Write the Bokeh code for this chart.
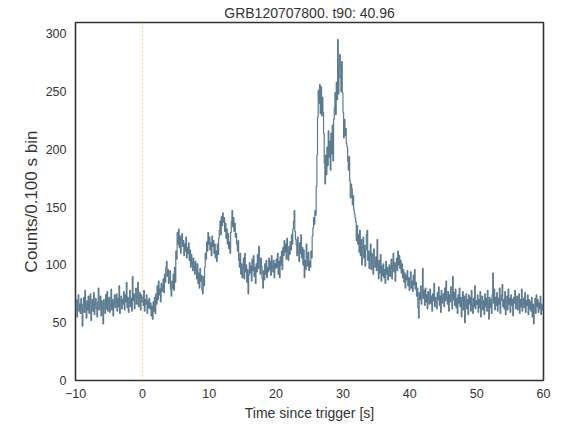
import numpy as np
from bokeh.plotting import figure
from bokeh.models import Span, Range1d, FixedTicker
from bokeh.embed import file_html
from bokeh.resources import INLINE

# Counts per 0.1 s bin
pre_trigger = [  # t = -10.0 .. -0.1
    62, 70, 55, 68, 74, 60, 66, 58, 71, 64,
    47, 66, 72, 59, 78, 63, 54, 69, 61, 73,
    58, 67, 75, 52, 64, 70, 60, 76, 57, 66,
    71, 62, 55, 68, 80, 61, 65, 73, 56, 69,
    63, 49, 70, 66, 58, 74, 62, 77, 60, 68,
    72, 59, 65, 79, 61, 70, 56, 67, 74, 63,
    68, 75, 60, 71, 64, 82, 58, 69, 73, 62,
    70, 66, 77, 61, 74, 68, 85, 63, 72, 59,
    67, 78, 64, 71, 60, 90, 69, 75, 62, 73,
    80, 66, 72, 85, 64, 70, 76, 61, 74, 68,
]
precursor = [  # t = 0.0 .. 25.9
    72, 65, 78, 60, 70, 66, 74, 58, 69, 63,
    71, 62, 67, 56, 64, 53, 68, 60, 72, 58,
    75, 66, 82, 70, 86, 74, 79, 68, 84, 77,
    80, 88, 76, 92, 85, 98, 103, 90, 96, 84,
    88, 95, 79, 73, 86, 80, 92, 78, 98, 85,
    112, 105, 128, 118, 131, 115, 125, 110, 122, 127,
    116, 121, 108, 118, 112, 124, 106, 115, 110, 119,
    104, 113, 98, 109, 102, 95, 106, 99, 92, 103,
    96, 88, 101, 84, 93, 80, 97, 86, 91, 78,
    75, 90, 82, 98, 110, 105, 120, 112, 128, 118,
    124, 113, 119, 108, 125, 116, 121, 110, 118, 106,
    112, 103, 118, 109, 123, 130, 138, 126, 142, 134,
    145, 137, 141, 129, 136, 123, 131, 118, 127, 114,
    120, 110, 128, 138, 147, 133, 141, 129, 136, 124,
    127, 118, 112, 121, 104, 98, 110, 92, 101, 89,
    97, 106, 88, 110, 94, 100, 85, 96, 75, 91,
    102, 93, 99, 86, 105, 95, 108, 90, 98, 84,
    101, 94, 109, 97, 116, 103, 92, 106, 99, 88,
    80, 95, 87, 101, 92, 104, 89, 98, 94, 106,
    96, 103, 91, 108, 99, 94, 104, 89, 101, 97,
    105, 98, 110, 92, 103, 89, 107, 100, 112, 96,
    115, 108, 121, 111, 118, 105, 123, 112, 104, 116,
    109, 120, 113, 126, 118, 131, 138, 147, 129, 122,
    117, 108, 124, 112, 103, 119, 110, 126, 106, 115,
    100, 113, 89, 104, 96, 118, 107, 99, 111, 95,
    103, 98, 112, 106, 125, 132, 141, 135, 147, 143,
]
main_pulse = [  # t = 26.0 .. 31.9
    168, 195, 228, 251, 240, 256, 231, 254, 229, 245,
    232, 214, 188, 170, 195, 178, 202, 186, 216, 193,
    207, 182, 214, 196, 221, 190, 226, 236, 249, 230,
    258, 243, 295, 248, 271, 282, 262, 250, 276, 249,
    232, 210, 226, 212, 218, 205, 202, 190, 182, 194,
    173, 158, 170, 166, 152, 160, 148, 144, 141, 137,
]
decay = [  # t = 32.0 .. 59.9
    121, 134, 118, 126, 111, 130, 108, 122, 100, 115,
    124, 106, 117, 99, 113, 126, 130, 104, 112, 97,
    108, 118, 96, 110, 101, 92, 114, 103, 98, 107,
    95, 122, 100, 88, 104, 93, 109, 86, 99, 91,
    101, 89, 96, 84, 103, 92, 98, 87, 94, 100,
    90, 97, 105, 88, 99, 110, 94, 102, 86, 98,
    106, 95, 112, 100, 108, 97, 104, 93, 101, 89,
    96, 85, 93, 80, 91, 87, 95, 82, 89, 78,
    88, 94, 80, 86, 77, 91, 83, 96, 79, 85,
    73, 80, 63, 54, 76, 70, 82, 66, 74, 97,
    71, 78, 65, 80, 68, 74, 62, 77, 70, 66,
    79, 67, 73, 60, 75, 69, 84, 64, 72, 68,
    62, 76, 70, 81, 65, 73, 59, 78, 67, 71,
    75, 64, 80, 69, 86, 72, 66, 77, 60, 74,
    68, 81, 73, 62, 90, 70, 76, 65, 79, 63,
    71, 58, 74, 67, 80, 64, 72, 55, 69, 77,
    61, 73, 50, 68, 75, 62, 70, 57, 74, 66,
    72, 60, 78, 65, 58, 71, 64, 82, 62, 69,
    66, 74, 59, 70, 63, 77, 55, 68, 73, 61,
    69, 57, 75, 64, 71, 60, 78, 66, 53, 72,
    63, 70, 58, 74, 93, 67, 79, 61, 72, 65,
    76, 60, 71, 66, 80, 58, 69, 74, 83, 64,
    70, 62, 77, 57, 68, 73, 61, 79, 66, 71,
    59, 74, 65, 70, 56, 72, 67, 78, 62, 69,
    73, 61, 68, 75, 58, 70, 64, 79, 60, 67,
    71, 63, 76, 59, 69, 65, 74, 57, 70, 62,
    68, 60, 72, 55, 66, 49, 63, 71, 58, 74,
    64, 70, 59, 67, 62, 73, 57, 66, 61, 65,
]
counts = pre_trigger + precursor + main_pulse + decay
bin_width = 0.1
t_start = -10.0
times = [round(t_start + i * bin_width, 1) for i in range(len(counts))]

x_ticks = [-10, 0, 10, 20, 30, 40, 50, 60]
y_ticks = [0, 50, 100, 150, 200, 250, 300]
title_text = "GRB120707800. t90: 40.96"

FONT = "Liberation Sans"
TXT = "#333333"

p = figure(width=554, height=423, output_backend="svg", toolbar_location=None,
           x_range=Range1d(-10, 60), y_range=Range1d(0, max(counts) * 1.05),
           min_border_left=75, min_border_right=11, min_border_top=0, min_border_bottom=10)

p.title.text = title_text
p.title.align = "center"
p.title.text_font = FONT
p.title.text_font_size = "14px"
p.title.text_font_style = "normal"
p.title.text_color = TXT
p.title.offset = 0
p.title.standoff = 4

p.step(times, counts, mode="after", line_color="#5d7b90", line_width=1.2)

p.add_layout(Span(location=0, dimension="height", line_color="#f7b74a",
                  line_dash="2 2", line_width=1, line_alpha=0.7))

p.xgrid.visible = False
p.ygrid.visible = False
p.outline_line_color = "#333333"
p.outline_line_width = 1.6
p.outline_line_alpha = 1.0
p.background_fill_color = "white"
p.border_fill_color = "white"

p.xaxis.ticker = FixedTicker(ticks=x_ticks)
p.yaxis.ticker = FixedTicker(ticks=y_ticks)
p.xaxis.axis_label = "Time since trigger [s]"
p.yaxis.axis_label = "Counts/0.100 s bin"
for ax in (p.xaxis[0], p.yaxis[0]):
    ax.axis_line_color = None
    ax.major_tick_line_color = None
    ax.minor_tick_line_color = None
    ax.major_tick_out = 0
    ax.major_tick_in = 0
    ax.minor_tick_out = 0
    ax.minor_tick_in = 0
    ax.major_label_text_font = FONT
    ax.major_label_text_font_size = "12.5px"
    ax.major_label_text_color = TXT
    ax.axis_label_text_font = FONT
    ax.axis_label_text_font_size = "14px"
    ax.axis_label_text_font_style = "normal"
    ax.axis_label_text_color = TXT
p.yaxis.axis_label_text_font_size = "17px"
p.xaxis.major_label_standoff = 8
p.yaxis.major_label_standoff = 9
p.xaxis.axis_label_standoff = 4
p.yaxis.axis_label_standoff = 2

open("out.html", "w").write(file_html(p, INLINE))
